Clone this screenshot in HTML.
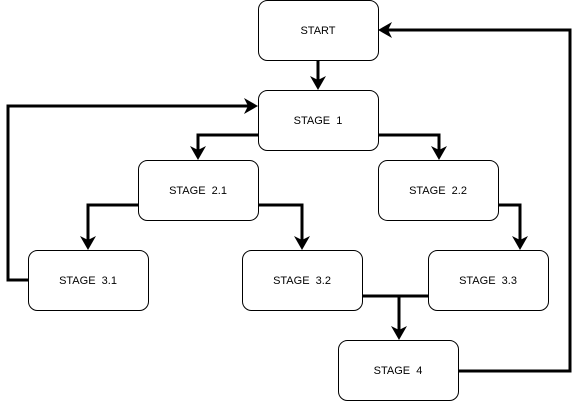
<!DOCTYPE html>
<html><head><style>body{margin:0;background:#fff}svg{display:block}text{white-space:pre}</style></head><body>
<svg width="578" height="401" viewBox="0 0 578 401" xmlns="http://www.w3.org/2000/svg" font-family="Liberation Sans, sans-serif" font-size="11">
<g fill="#fff" stroke="#000" stroke-width="1">
<rect x="258.5" y="0.5" width="120" height="60" rx="9"/>
<rect x="258.5" y="90.5" width="120" height="60" rx="9"/>
<rect x="138.5" y="160.5" width="120" height="60" rx="9"/>
<rect x="378.5" y="160.5" width="120" height="60" rx="9"/>
<rect x="28.5" y="250.5" width="120" height="60" rx="9"/>
<rect x="242.5" y="250.5" width="120" height="60" rx="9"/>
<rect x="428.5" y="250.5" width="120" height="60" rx="9"/>
<rect x="338.5" y="340.5" width="120" height="60" rx="9"/>
</g>
<g fill="none" stroke="#000" stroke-width="3">
<path d="M318 61V80"/>
<path d="M28 280H8V106H248"/>
<path d="M258 135H198V150"/>
<path d="M379 135H439V150"/>
<path d="M138 205H88V240"/>
<path d="M259 205H302V240"/>
<path d="M499 205H520V240"/>
<path d="M363 296H428M399 296V330"/>
<path d="M459 371H570V30H388"/>
</g>
<g fill="#000">
<path d="M318 90L310 76L318 80L326 76Z"/>
<path d="M258 106L244 98L248 106L244 114Z"/>
<path d="M198 160L190 146L198 150L206 146Z"/>
<path d="M439 160L431 146L439 150L447 146Z"/>
<path d="M88 250L80 236L88 240L96 236Z"/>
<path d="M302 250L294 236L302 240L310 236Z"/>
<path d="M520 250L512 236L520 240L528 236Z"/>
<path d="M399 340L391 326L399 330L407 326Z"/>
<path d="M378 30L392 22L388 30L392 38Z"/>
</g>
<g text-anchor="middle" fill="#000">
<text x="318" y="34">START</text>
<text x="318" y="124">STAGE  1</text>
<text x="198" y="194">STAGE  2.1</text>
<text x="438" y="194">STAGE  2.2</text>
<text x="88" y="284">STAGE  3.1</text>
<text x="302" y="284">STAGE  3.2</text>
<text x="488" y="284">STAGE  3.3</text>
<text x="398" y="374">STAGE  4</text>
</g>
</svg>
</body></html>
